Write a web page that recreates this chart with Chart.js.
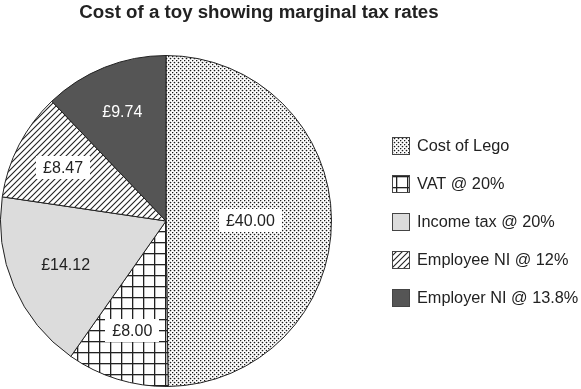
<!DOCTYPE html>
<html>
<head>
<meta charset="utf-8">
<script src="https://cdn.jsdelivr.net/npm/chart.js@4.4.0/dist/chart.umd.min.js"></script>
<style>
html,body{margin:0;padding:0;background:#fff;}
#wrap{position:relative;width:581px;height:389px;}
</style>
</head>
<body>
<div id="wrap"><canvas id="c" width="581" height="389"></canvas></div>
<script>
const title = "Cost of a toy showing marginal tax rates";
const categories = ["Cost of Lego", "VAT @ 20%", "Income tax @ 20%", "Employee NI @ 12%", "Employer NI @ 13.8%"];
const values = [40.00, 8.00, 14.12, 8.47, 9.74];
const valueLabels = ["£40.00", "£8.00", "£14.12", "£8.47", "£9.74"];

// style arrays
const labelRadius = [0.51, 0.69, 0.66, 0.70, 0.71];
const labelBox = [true, true, false, true, false];
const labelColor = ["#222", "#222", "#222", "#222", "#fff"];

function makePattern(kind) {
  const c = document.createElement('canvas');
  const ctx = c.getContext('2d');
  if (kind === 'dots') {
    c.width = 4; c.height = 4;
    ctx.fillStyle = '#fff'; ctx.fillRect(0,0,4,4);
    ctx.fillStyle = '#1a1a1a';
    ctx.beginPath(); ctx.arc(0.5,0.5,0.85,0,Math.PI*2); ctx.fill();
    ctx.beginPath(); ctx.arc(2.5,2.5,0.85,0,Math.PI*2); ctx.fill();
  } else if (kind === 'grid') {
    c.width = 11; c.height = 11;
    ctx.fillStyle = '#fff'; ctx.fillRect(0,0,11,11);
    ctx.fillStyle = '#222';
    ctx.fillRect(0,0,11,1.3);
    ctx.fillRect(0,0,1.3,11);
  } else if (kind === 'gray') {
    return '#dcdcdc';
  } else if (kind === 'hatch') {
    c.width = 6; c.height = 6;
    ctx.fillStyle = '#fff'; ctx.fillRect(0,0,6,6);
    ctx.strokeStyle = '#222'; ctx.lineWidth = 1.1;
    ctx.beginPath();
    ctx.moveTo(-1,7); ctx.lineTo(7,-1);
    ctx.moveTo(-1,1); ctx.lineTo(1,-1);
    ctx.moveTo(5,7); ctx.lineTo(7,5);
    ctx.stroke();
  } else {
    return '#555555';
  }
  return ctx.createPattern(c, 'repeat');
}
const fills = ['dots','grid','gray','hatch','dark'].map(makePattern);

const overlay = {
  id: 'overlay',
  afterDraw(chart) {
    const ctx = chart.ctx;
    ctx.save();
    // title
    ctx.fillStyle = '#222';
    ctx.font = 'bold 18.7px "Liberation Sans", Arial, sans-serif';
    ctx.textAlign = 'center';
    ctx.textBaseline = 'middle';
    ctx.fillText(title, 259, 13);

    // slice labels
    const meta = chart.getDatasetMeta(0);
    ctx.font = '16px "Liberation Sans", Arial, sans-serif';
    meta.data.forEach((arc, i) => {
      const p = arc.getProps(['x','y','startAngle','endAngle','outerRadius'], true);
      const mid = (p.startAngle + p.endAngle) / 2;
      const r = p.outerRadius * labelRadius[i];
      const x = p.x + Math.cos(mid) * r;
      const y = p.y + Math.sin(mid) * r;
      const w = ctx.measureText(valueLabels[i]).width;
      if (labelBox[i]) {
        ctx.fillStyle = '#fff';
        ctx.fillRect(Math.round(x - w/2 - 7), Math.round(y - 11.5), Math.round(w + 14), 23);
      }
      ctx.fillStyle = labelColor[i];
      ctx.textAlign = 'center';
      ctx.textBaseline = 'middle';
      ctx.fillText(valueLabels[i], x, y + 1);
    });

    // legend
    const lx = 392, ly0 = 137, step = 38, bs = 18;
    ctx.font = '16.3px "Liberation Sans", Arial, sans-serif';
    ctx.textAlign = 'left';
    ctx.textBaseline = 'middle';
    categories.forEach((name, i) => {
      const y = ly0 + i * step;
      ctx.fillStyle = fills[i];
      ctx.fillRect(lx, y, bs, bs);
      ctx.strokeStyle = '#444';
      ctx.lineWidth = 1;
      ctx.strokeRect(lx + 0.5, y + 0.5, bs - 1, bs - 1);
      ctx.fillStyle = '#222';
      ctx.fillText(name, 417, y + bs/2 + 1);
    });
    ctx.restore();
  }
};

new Chart(document.getElementById('c'), {
  type: 'pie',
  data: {
    labels: categories,
    datasets: [{
      data: values,
      backgroundColor: fills,
      borderColor: '#222',
      borderWidth: 1
    }]
  },
  options: {
    responsive: false,
    animation: false,
    layout: { padding: { left: 0, top: 55, right: 249, bottom: 2 } },
    plugins: { legend: { display: false }, title: { display: false }, tooltip: { enabled: false } }
  },
  plugins: [overlay]
});
</script>
</body>
</html>
